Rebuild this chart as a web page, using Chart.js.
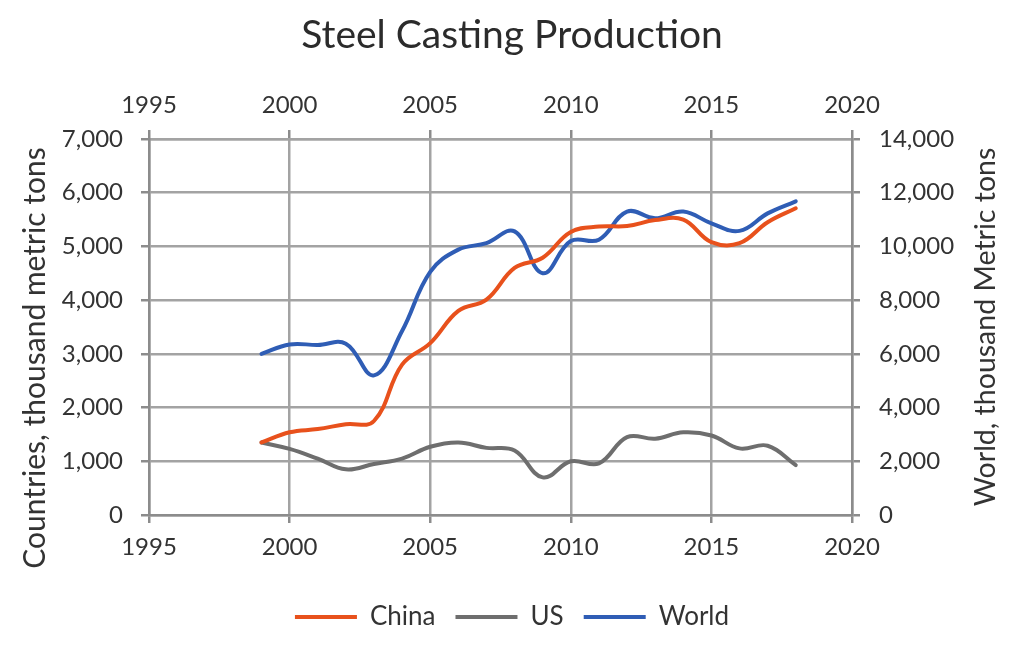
<!DOCTYPE html>
<html>
<head>
<meta charset="utf-8">
<script src="https://cdn.jsdelivr.net/npm/chart.js@4"></script>
<style>
  html, body { margin: 0; padding: 0; background: #fff; }
  #wrap { width: 1024px; height: 646px; }
</style>
</head>
<body>
<div id="wrap"><canvas id="grafico" width="1024" height="646"></canvas></div>
<script>
// dados
const anos = [1999, 2000, 2001, 2002, 2003, 2004, 2005, 2006, 2007, 2008, 2009, 2010, 2011, 2012, 2013, 2014, 2015, 2016, 2017, 2018];
const china = [1350, 1540, 1600, 1690, 1750, 2800, 3200, 3800, 4010, 4600, 4790, 5270, 5370, 5380, 5490, 5500, 5080, 5060, 5450, 5710];
const eua = [1350, 1230, 1050, 850, 950, 1050, 1270, 1350, 1250, 1200, 700, 1000, 960, 1450, 1420, 1540, 1480, 1240, 1290, 930];
const mundo = [6000, 6350, 6330, 6380, 5200, 6850, 9050, 9880, 10120, 10560, 9000, 10200, 10250, 11300, 11050, 11300, 10860, 10580, 11230, 11680];

const ticksAnos = [1995, 2000, 2005, 2010, 2015, 2020];
const tituloEsq = "Countries, thousand metric tons";
const tituloDir = "World, thousand Metric tons";

const FONTE = "Lato";
const COR_TEXTO = "#333333";
const COR_GRADE = "#a3a3a3";
const COR_BORDA = "#8c8c8c";

// area do grafico fixa (em pixels da imagem)
const AREA = { left: 149, right: 852, top: 139, bottom: 515 };
const PAD_BAIXO = 6;

function serie(valores) {
    return valores.map((v, i) => ({ x: anos[i], y: v }));
}

// titulos dos eixos desenhados a mao (o da esquerda fica abaixo do centro)
const titulosEixos = {
    id: "titulosEixos",
    afterDraw(chart) {
        const ctx = chart.ctx;
        const a = chart.chartArea;
        const meio = (a.top + a.bottom) / 2;
        ctx.save();
        ctx.font = "30px " + FONTE;
        ctx.fillStyle = COR_TEXTO;
        ctx.textAlign = "center";
        ctx.textBaseline = "middle";
        ctx.translate(a.left - 114, meio + 31);
        ctx.rotate(-Math.PI / 2);
        ctx.fillText(tituloEsq, 0, 0);
        ctx.restore();

        ctx.save();
        ctx.font = "28.5px " + FONTE;
        ctx.fillStyle = COR_TEXTO;
        ctx.textAlign = "center";
        ctx.textBaseline = "middle";
        ctx.translate(a.right + 134, meio);
        ctx.rotate(-Math.PI / 2);
        ctx.fillText(tituloDir, 0, 0);
        ctx.restore();
    }
};

const ctx = document.getElementById("grafico").getContext("2d");

new Chart(ctx, {
    type: "line",
    data: {
        datasets: [
            {
                label: "China",
                data: serie(china),
                borderColor: "#e8511c",
                backgroundColor: "#e8511c",
                yAxisID: "y"
            },
            {
                label: "US",
                data: serie(eua),
                borderColor: "#6e6e6e",
                backgroundColor: "#6e6e6e",
                yAxisID: "y"
            },
            {
                label: "World",
                data: serie(mundo),
                borderColor: "#2f5db5",
                backgroundColor: "#2f5db5",
                yAxisID: "y2"
            }
        ]
    },
    options: {
        responsive: false,
        animation: false,
        devicePixelRatio: 1,
        elements: {
            line: { borderWidth: 4, tension: 0.4, borderCapStyle: "round", borderJoinStyle: "round" },
            point: { radius: 0, hoverRadius: 0, borderWidth: 4 }
        },
        layout: { padding: { left: 0, right: 0, top: 0, bottom: PAD_BAIXO } },
        plugins: {
            title: {
                display: true,
                text: "Steel Casting Production",
                color: "#2b2b2b",
                font: { family: FONTE, size: 39, weight: "normal" },
                padding: { top: 12, bottom: 0 }
            },
            legend: {
                display: true,
                position: "bottom",
                labels: {
                    color: COR_TEXTO,
                    font: { family: FONTE, size: 26 },
                    usePointStyle: true,
                    pointStyle: "line",
                    pointStyleWidth: 62,
                    padding: 20
                }
            },
            tooltip: { enabled: false }
        },
        scales: {
            x: {
                type: "linear",
                position: "bottom",
                min: 1995,
                max: 2020,
                afterBuildTicks: s => { s.ticks = ticksAnos.map(v => ({ value: v })); },
                afterFit: s => { s.height = 646 - AREA.bottom - s.chart.legend.height - PAD_BAIXO; },
                ticks: {
                    color: COR_TEXTO,
                    font: { family: FONTE, size: 24 },
                    padding: 10,
                    maxRotation: 0,
                    autoSkip: false,
                    callback: v => String(v)
                },
                grid: { color: COR_GRADE, lineWidth: 2.5, tickLength: 8, tickColor: COR_BORDA },
                border: { display: true, color: COR_BORDA, width: 2.5 }
            },
            x2: {
                type: "linear",
                position: "top",
                min: 1995,
                max: 2020,
                afterBuildTicks: s => { s.ticks = ticksAnos.map(v => ({ value: v })); },
                afterFit: s => { s.height = AREA.top - s.chart.titleBlock.height; },
                ticks: {
                    color: COR_TEXTO,
                    font: { family: FONTE, size: 24 },
                    padding: 10,
                    maxRotation: 0,
                    autoSkip: false,
                    callback: v => String(v)
                },
                grid: { drawOnChartArea: false, color: COR_BORDA, lineWidth: 2.5, tickLength: 9 },
                border: { display: true, color: COR_GRADE, width: 2.5 }
            },
            y: {
                position: "left",
                min: 0,
                max: 7000,
                afterFit: s => { s.width = AREA.left; },
                ticks: {
                    stepSize: 1000,
                    color: COR_TEXTO,
                    font: { family: FONTE, size: 24 },
                    padding: 18
                },
                grid: { color: COR_GRADE, lineWidth: 2.5, tickLength: 8, tickColor: COR_BORDA },
                border: { display: true, color: COR_BORDA, width: 2.5 }
            },
            y2: {
                position: "right",
                min: 0,
                max: 14000,
                afterFit: s => { s.width = 1024 - AREA.right; },
                ticks: {
                    stepSize: 2000,
                    color: COR_TEXTO,
                    font: { family: FONTE, size: 24 },
                    padding: 19
                },
                grid: { drawOnChartArea: false, color: COR_BORDA, lineWidth: 2.5, tickLength: 8 },
                border: { display: true, color: COR_BORDA, width: 2.5 }
            }
        }
    },
    plugins: [titulosEixos]
});
</script>
</body>
</html>
